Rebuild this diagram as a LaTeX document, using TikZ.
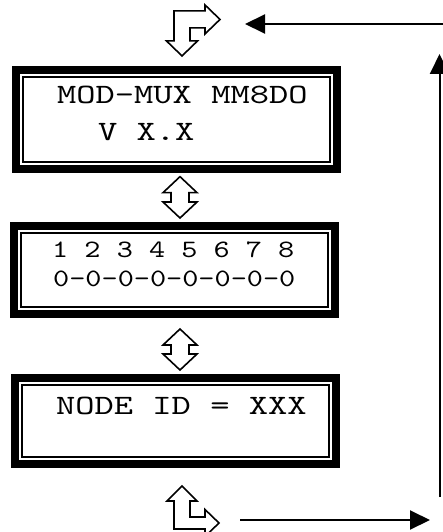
\documentclass[tikz,border=0pt]{standalone}
\usepackage{fontspec}
\newfontfamily\lcdfont[FakeStretch=1.31]{lmmono10-regular.otf}
\newfontfamily\lcdsmallfont[FakeStretch=1.23]{lmmono10-regular.otf}
\usetikzlibrary{calc,arrows.meta}

% hollow arrow with a head at both ends, from #1 (top) to #2 (bottom)
\newcommand{\twoway}[2]{%
    \draw[hollow] let \p1=#1, \p2=#2 in
        (\x1,\y1) -- (\x1+17pt,\y1-16pt) -- (\x1+9pt,\y1-16pt) -- (\x1+9pt,\y2+16pt)
        -- (\x1+17pt,\y2+16pt) -- (\x1,\y2) -- (\x1-17pt,\y2+16pt) -- (\x1-9pt,\y2+16pt)
        -- (\x1-9pt,\y1-16pt) -- (\x1-17pt,\y1-16pt) -- cycle;}

\begin{document}
\begin{tikzpicture}[x=1pt,y=-1pt,>={Triangle[length=20pt,width=19pt]}]
        \tikzstyle{lcd}=[draw, line width=8pt, inner sep=0pt, minimum width=321pt,
            path picture={\draw[line width=2pt]
                ([shift={(7pt,-7pt)}]path picture bounding box.north west) rectangle
                ([shift={(-7pt,7pt)}]path picture bounding box.south east);}]
        \tikzstyle{textbig}=[inner sep=0pt, anchor=base west, font=\lcdfont\fontsize{28}{28}\selectfont]
        \tikzstyle{textsmall}=[inner sep=0pt, anchor=base west, font=\lcdsmallfont\fontsize{25}{25}\selectfont]
        \tikzstyle{hollow}=[line width=1.6pt, fill=white]
        \tikzstyle{feed}=[->, line width=2pt]
        \useasboundingbox (0,0) rectangle (442,532);

        % Display screens
        \node[lcd, minimum height=98.7pt] (screen1) at (176.5,119.3) {};
        \node[lcd, minimum height=88pt] (screen2) at (174.5,270) {};
        \node[lcd, minimum height=86pt] (screen3) at (175.5,421) {};

        % Screen texts
        \node[textbig] (title) at (57,103) {MOD-MUX MM8DO};
        \node[textbig] (version) at (98,140) {V X.X};
        \node[textsmall] (channels) at (52,257) {1 2 3 4 5 6 7 8};
        \node[textsmall] (states) at (53,286) {0-0-0-0-0-0-0-0};
        \node[textbig] (nodeid) at (56,414) {NODE ID = XXX};

        % Scrolling between screens
        \twoway{([shift={(3.5,4)}]screen1.south)}{([shift={(5.5,-4)}]screen2.north)}
        \twoway{([shift={(5.5,11)}]screen2.south)}{([shift={(4.5,-4)}]screen3.north)}

        % Corner arrows
        \coordinate (loopin) at ([shift={(5.5,-10)}]screen1.north);
        \draw[hollow] (loopin) -- ++(15.5,-15) -- ++(-7.5,0) -- ++(0,-13) -- ++(15,0)
            -- ++(0,6) -- ++(15,-14.5) -- ++(-15,-14.5) -- ++(0,6) -- ++(-31,0)
            -- ++(0,30) -- ++(-7.5,0) -- cycle;
        \coordinate (loopout) at ([shift={(6.5,18)}]screen3.south);
        \draw[hollow] (loopout) -- ++(15,15) -- ++(-7,0) -- ++(0,16) -- ++(15,0)
            -- ++(0,-7.5) -- ++(14,13.5) -- ++(-14,13.5) -- ++(0,-7.5) -- ++(-31,0)
            -- ++(0,-28) -- ++(-7,0) -- cycle;

        % Return path
        \coordinate (back1) at (240,520);
        \coordinate (back2) at (430,520);
        \coordinate (up1) at (439.5,497);
        \coordinate (up2) at (439.5,54);
        \coordinate (top1) at (446,24);
        \coordinate (top2) at (245,24);
        \draw[feed] (back1) -- (back2);
        \draw[feed] (up1) -- (up2);
        \draw[feed] (top1) -- (top2);
\end{tikzpicture}
\end{document}
